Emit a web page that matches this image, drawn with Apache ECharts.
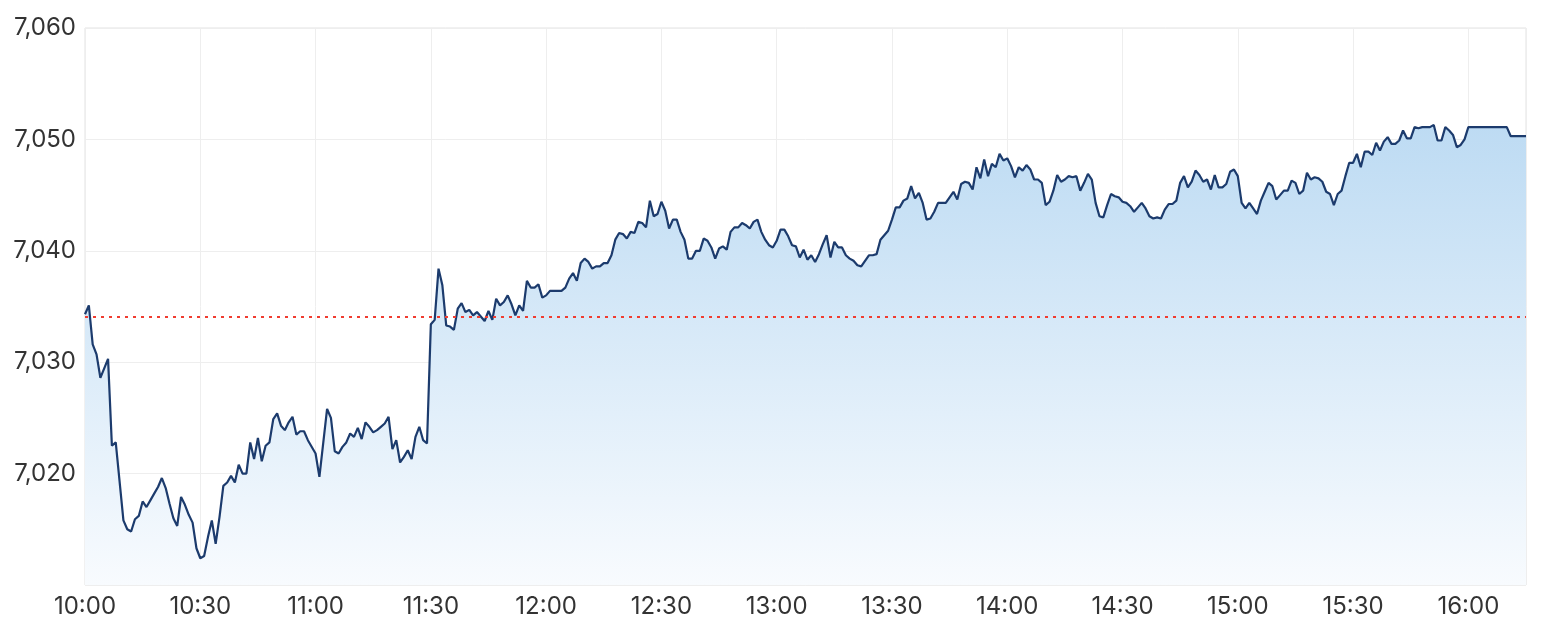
<!DOCTYPE html>
<html>
<head>
<meta charset="utf-8">
<title>Intraday</title>
<script src="https://cdn.jsdelivr.net/npm/echarts@6.0.0/dist/echarts.min.js"></script>
<style>
	html, body { margin: 0; padding: 0; background: #fff; }
	#chart { width: 1560px; height: 633px; }
</style>
</head>
<body>
<div id="chart"></div>
<script>
// tick labels of the time axis, one every 30 minutes from 10:00
var timeLabels = ['10:00', '10:30', '11:00', '11:30', '12:00', '12:30', '13:00',
	'13:30', '14:00', '14:30', '15:00', '15:30', '16:00'];

// last session close (dotted red line)
var prevClose = 7034.1;

// one price per minute from 10:00 to 16:15, null = no print read for that minute
var prices = [
	7034.3, 7035.1, 7031.6, 7030.7, 7028.6, null, 7030.3, 7022.5, 7022.8, null,
	7015.8, 7015.0, 7014.8, 7015.9, 7016.2, 7017.5, 7017.0, 7017.6, 7018.2, 7018.8,
	7019.6, 7018.7, 7017.3, 7016.0, 7015.3, 7017.9, 7017.2, 7016.3, 7015.6, 7013.3,
	7012.4, 7012.6, 7014.3, 7015.8, 7013.7, 7016.1, 7018.9, 7019.2, 7019.8, 7019.2,
	7020.8, 7020.0, 7020.0, 7022.8, 7021.3, 7023.2, 7021.1, 7022.5, 7022.8, 7024.9,
	7025.4, 7024.3, 7023.9, 7024.6, 7025.1, 7023.5, 7023.8, 7023.8, 7023.0, null,
	7021.8, 7019.7, null, 7025.8, 7025.0, 7022.0, 7021.8, 7022.4, 7022.8, 7023.6,
	7023.3, 7024.1, 7023.1, 7024.6, 7024.2, 7023.7, 7023.9, 7024.2, 7024.5, 7025.1,
	7022.2, 7023.0, 7021.0, 7021.5, 7022.1, 7021.3, 7023.3, 7024.2, 7023.0, 7022.7,
	7033.4, 7033.8, 7038.4, 7036.9, 7033.3, 7033.2, 7032.9, 7034.8, 7035.3, 7034.5,
	7034.7, 7034.2, 7034.5, 7034.1, 7033.7, 7034.6, 7033.8, 7035.7, 7035.1, 7035.4,
	7036.0, 7035.2, 7034.2, 7035.1, 7034.6, 7037.3, 7036.7, 7036.7, 7037.0, 7035.8,
	7036.0, 7036.4, 7036.4, 7036.4, 7036.4, 7036.7, 7037.5, 7038.0, 7037.3, 7038.9,
	7039.3, 7039.0, 7038.4, 7038.6, 7038.6, 7038.9, 7038.9, 7039.6, 7041.0, 7041.6,
	7041.5, 7041.1, 7041.7, 7041.6, 7042.6, 7042.5, 7042.1, 7044.5, 7043.1, 7043.3,
	7044.4, 7043.6, 7042.0, 7042.8, 7042.8, 7041.7, 7041.0, 7039.3, 7039.3, 7040.0,
	7040.0, 7041.1, 7040.9, 7040.3, 7039.3, 7040.2, 7040.4, 7040.1, 7041.7, 7042.1,
	7042.1, 7042.5, 7042.3, 7042.0, 7042.6, 7042.8, 7041.7, 7041.0, 7040.5, 7040.3,
	7040.9, 7041.9, 7041.9, 7041.3, 7040.5, 7040.4, 7039.4, 7040.1, 7039.2, 7039.6,
	7039.0, 7039.7, 7040.6, 7041.4, 7039.4, 7040.8, 7040.3, 7040.3, 7039.6, 7039.3,
	7039.1, 7038.7, 7038.6, 7039.1, 7039.6, 7039.6, 7039.7, 7041.0, 7041.4, 7041.8,
	7042.8, 7043.9, 7043.9, 7044.5, 7044.7, 7045.8, 7044.7, 7045.2, 7044.3, 7042.8,
	7042.9, 7043.5, 7044.3, 7044.3, 7044.3, 7044.8, 7045.3, 7044.6, 7046.0, 7046.2,
	7046.1, 7045.5, 7047.5, 7046.5, 7048.2, 7046.7, 7047.8, 7047.5, 7048.7, 7048.1,
	7048.3, 7047.6, 7046.6, 7047.5, 7047.2, 7047.7, 7047.3, 7046.4, 7046.4, 7046.1,
	7044.1, 7044.4, 7045.4, 7046.8, 7046.2, 7046.4, 7046.7, 7046.6, 7046.7, 7045.4,
	7046.1, 7046.9, 7046.4, 7044.3, 7043.1, 7043.0, 7044.1, 7045.1, 7044.9, 7044.8,
	7044.4, 7044.3, 7044.0, 7043.5, 7043.9, 7044.3, 7043.8, 7043.1, 7042.9, 7043.0,
	7042.9, 7043.7, 7044.2, 7044.2, 7044.5, 7046.1, 7046.7, 7045.7, 7046.2, 7047.2,
	7046.8, 7046.2, 7046.4, 7045.5, 7046.8, 7045.7, 7045.7, 7046.0, 7047.1, 7047.3,
	7046.7, 7044.3, 7043.8, 7044.3, 7043.8, 7043.3, 7044.5, 7045.3, 7046.1, 7045.8,
	7044.6, 7045.0, 7045.4, 7045.4, 7046.3, 7046.1, 7045.1, 7045.4, 7047.0, 7046.4,
	7046.6, 7046.5, 7046.2, 7045.3, 7045.1, 7044.1, 7045.1, 7045.4, 7046.7, 7047.9,
	7047.9, 7048.7, 7047.5, 7048.9, 7048.9, 7048.6, 7049.7, 7049.0, 7049.8, 7050.2,
	7049.6, 7049.6, 7049.9, 7050.8, 7050.1, 7050.1, 7051.1, 7051.0, 7051.1, 7051.1,
	7051.1, 7051.3, 7049.9, 7049.9, 7051.1, 7050.8, 7050.4, 7049.3, 7049.5, 7050.0,
	7051.1, 7051.1, 7051.1, 7051.1, 7051.1, 7051.1, 7051.1, 7051.1, 7051.1, 7051.1,
	7051.1, 7050.3, 7050.3, 7050.3, 7050.3, 7050.3
];

var LABEL_FONT = 'Inter, Liberation Sans, sans-serif';

/**
 * minute index -> [x, y] pair, keep gaps as '-'
 */
function toPoints(list) {
	var out = [];
	for (var i = 0; i < list.length; i++) {
		out.push([i, list[i] == null ? '-' : list[i]]);
	}
	return out;
}

function formatPrice(v) {
	return v.toLocaleString('en-US');
}

function formatTime(v) {
	if (v % 30 !== 0) {
		return '';
	}
	return timeLabels[v / 30] || '';
}

var option = {
	animation: false,
	backgroundColor: '#fff',
	grid: {
		left: 85,
		right: 34,
		top: 28,
		bottom: 48,
		show: true,
		borderColor: '#e3e3e3',
		borderWidth: 1,
		backgroundColor: 'transparent'
	},
	xAxis: {
		type: 'value',
		min: 0,
		max: prices.length - 1,
		interval: 30,
		axisLine: { show: false },
		axisTick: { show: false },
		splitLine: { show: true, lineStyle: { color: '#eeeeee', width: 1 } },
		axisLabel: {
			formatter: formatTime,
			showMaxLabel: false,
			margin: 10,
			color: '#333',
			fontSize: 24,
			fontFamily: LABEL_FONT
		}
	},
	yAxis: {
		type: 'value',
		min: 7010,
		max: 7060,
		interval: 10,
		axisLine: { show: false },
		axisTick: { show: false },
		splitLine: { show: true, lineStyle: { color: '#eeeeee', width: 1 } },
		axisLabel: {
			formatter: formatPrice,
			showMinLabel: false,
			margin: 9,
			color: '#333',
			fontSize: 24,
			fontFamily: LABEL_FONT
		}
	},
	series: [{
		type: 'line',
		data: toPoints(prices),
		connectNulls: true,
		showSymbol: false,
		symbol: 'none',
		lineStyle: { color: '#1c3b6d', width: 2.2 },
		areaStyle: {
			opacity: 1,
			color: new echarts.graphic.LinearGradient(0, 0, 0, 1, [
				{ offset: 0, color: '#bddbf3' },
				{ offset: 1, color: '#f8fbfe' }
			])
		},
		markLine: {
			silent: true,
			symbol: 'none',
			label: { show: false },
			lineStyle: { color: '#f03c30', type: [3, 5], width: 1.8 },
			data: [{ yAxis: prevClose }]
		}
	}]
};

var chart = echarts.init(document.getElementById('chart'));
chart.setOption(option);
</script>
</body>
</html>
